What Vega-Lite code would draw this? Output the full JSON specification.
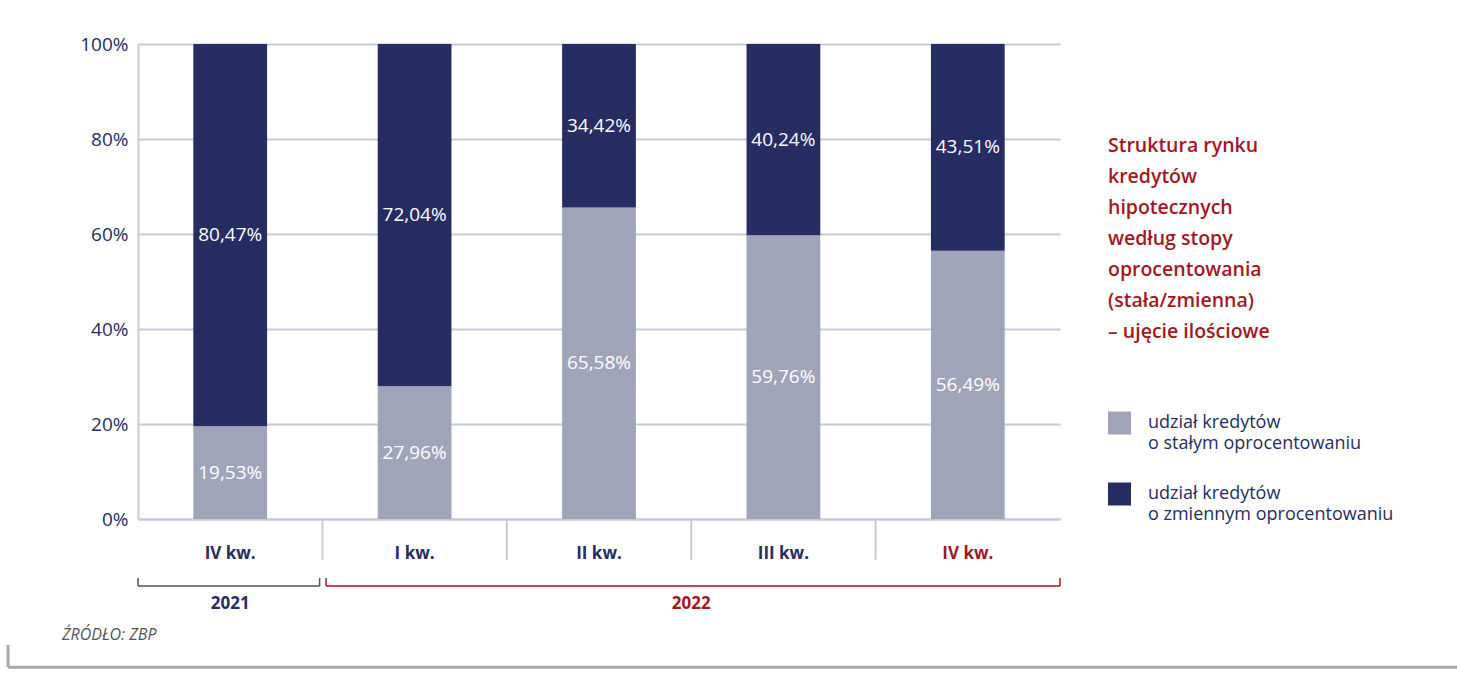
{
  "$schema": "https://vega.github.io/schema/vega-lite/v6.json",
  "autosize": {"type": "none"},
  "width": 922,
  "height": 475,
  "padding": {"left": 138, "top": 44, "right": 397, "bottom": 179},
  "background": "white",
  "config": {"view": {"stroke": null}, "font": "Open Sans"},
  "datasets": {
    "bars": [
      {"q": "IV kw.|2021", "typ": "stały", "ord": 1, "value": 19.53},
      {"q": "IV kw.|2021", "typ": "zmienny", "ord": 2, "value": 80.47},
      {"q": "I kw.|2022", "typ": "stały", "ord": 1, "value": 27.96},
      {"q": "I kw.|2022", "typ": "zmienny", "ord": 2, "value": 72.04},
      {"q": "II kw.|2022", "typ": "stały", "ord": 1, "value": 65.58},
      {"q": "II kw.|2022", "typ": "zmienny", "ord": 2, "value": 34.42},
      {"q": "III kw.|2022", "typ": "stały", "ord": 1, "value": 59.76},
      {"q": "III kw.|2022", "typ": "zmienny", "ord": 2, "value": 40.24},
      {"q": "IV kw.|2022", "typ": "stały", "ord": 1, "value": 56.49},
      {"q": "IV kw.|2022", "typ": "zmienny", "ord": 2, "value": 43.51}
    ],
    "years": [
      {"year": "2021", "start": 0.0, "end": 0.985, "mid": 0.5},
      {"year": "2022", "start": 1.02, "end": 5.0, "mid": 3.0}
    ],
    "seps": [{"b": 1}, {"b": 2}, {"b": 3}, {"b": 4}],
    "src": [{"t": "ŹRÓDŁO: ZBP"}]
  },
  "layer": [
    {
      "data": {"name": "bars"},
      "encoding": {
        "x": {
          "field": "q",
          "type": "nominal",
          "sort": null,
          "scale": {"paddingInner": 0.6, "paddingOuter": 0.3},
          "axis": {
            "title": null,
            "ticks": false,
            "labelAngle": 0,
            "labelExpr": "split(datum.label, '|')[0]",
            "labelFontSize": 17,
            "labelFontWeight": "bold",
            "labelColor": {"condition": {"test": "datum.value == 'IV kw.|2022'", "value": "#a3171f"}, "value": "#252d63"},
            "labelPadding": 26,
            "domainColor": "#c5cad9",
            "domainWidth": 2,
            "grid": false
          }
        }
      },
      "layer": [
        {
          "mark": {"type": "bar"},
          "encoding": {
            "y": {
              "field": "value",
              "type": "quantitative",
              "stack": "zero",
              "scale": {"domain": [0, 100], "nice": false},
              "axis": {
                "title": null,
                "values": [0, 20, 40, 60, 80, 100],
                "labelExpr": "datum.value + '%'",
                "labelFontSize": 19,
                "labelColor": "#252d63",
                "labelPadding": 10,
                "ticks": false,
                "domainColor": "#c5cad9",
                "domainWidth": 2,
                "gridColor": "#c5cad9",
                "gridWidth": 2
              }
            },
            "order": {"field": "ord"},
            "color": {
              "field": "typ",
              "type": "nominal",
              "scale": {"domain": ["stały", "zmienny"], "range": ["#a0a4b8", "#252d63"]},
              "legend": {
                "orient": "none",
                "legendX": 970,
                "legendY": 93,
                "title": ["Struktura rynku", "kredytów", "hipotecznych", "według stopy", "oprocentowania", "(stała/zmienna)", "– ujęcie ilościowe"],
                "titleColor": "#a3171f",
                "titleFontSize": 19.5,
                "titleFontWeight": 600,
                "titleLineHeight": 31,
                "titlePadding": 69,
                "symbolType": "square",
                "symbolSize": 529,
                "symbolStrokeWidth": 0,
                "symbolOpacity": 1,
                "labelExpr": "datum.value == 'stały' ? ['udział kredytów', 'o stałym oprocentowaniu'] : ['udział kredytów', 'o zmiennym oprocentowaniu']",
                "labelFontSize": 18,
                "labelColor": "#252d63",
                "labelBaseline": "alphabetic",
                "labelOffset": 17,
                "labelLimit": 400,
                "rowPadding": 29,
                "encode": {"labels": {"update": {"dy": {"value": 5}, "lineHeight": {"value": 21}}}}
              }
            }
          }
        },
        {
          "transform": [
            {"stack": "value", "groupby": ["q"], "sort": [{"field": "ord"}], "as": ["v0", "v1"]},
            {"calculate": "(datum.v0 + datum.v1) / 2", "as": "mid"},
            {"calculate": "replace(format(datum.value, '.2f'), '.', ',') + '%'", "as": "lbl"}
          ],
          "mark": {"type": "text", "color": "white", "fontSize": 19, "baseline": "middle", "align": "center"},
          "encoding": {
            "y": {"field": "mid", "type": "quantitative", "scale": {"domain": [0, 100], "nice": false}},
            "text": {"field": "lbl"}
          }
        }
      ]
    },
    {
      "layer": [
        {
          "data": {"name": "seps"},
          "mark": {"type": "rule", "color": "#c5cad9", "strokeWidth": 2},
          "encoding": {
            "x": {"field": "b", "type": "quantitative", "scale": {"domain": [0, 5], "nice": false, "zero": false}, "axis": null},
            "y": {"datum": 0},
            "y2": {"datum": -8.6}
          }
        },
        {
          "data": {"name": "years"},
          "mark": {"type": "rule", "strokeWidth": 1.5},
          "encoding": {
            "x": {"field": "start", "type": "quantitative", "scale": {"domain": [0, 5], "nice": false, "zero": false}, "axis": null},
            "x2": {"field": "end"},
            "y": {"datum": -14.1},
            "color": {"field": "year", "type": "nominal", "scale": {"domain": ["2021", "2022"], "range": ["#555555", "#a3171f"]}, "legend": null}
          }
        },
        {
          "data": {"name": "years"},
          "mark": {"type": "rule", "strokeWidth": 1.5},
          "encoding": {
            "x": {"field": "start", "type": "quantitative", "scale": {"domain": [0, 5], "nice": false, "zero": false}, "axis": null},
            "y": {"datum": -12.4},
            "y2": {"datum": -14.1},
            "color": {"field": "year", "type": "nominal", "scale": {"domain": ["2021", "2022"], "range": ["#555555", "#a3171f"]}, "legend": null}
          }
        },
        {
          "data": {"name": "years"},
          "mark": {"type": "rule", "strokeWidth": 1.5},
          "encoding": {
            "x": {"field": "end", "type": "quantitative", "scale": {"domain": [0, 5], "nice": false, "zero": false}, "axis": null},
            "y": {"datum": -12.4},
            "y2": {"datum": -14.1},
            "color": {"field": "year", "type": "nominal", "scale": {"domain": ["2021", "2022"], "range": ["#555555", "#a3171f"]}, "legend": null}
          }
        },
        {
          "data": {"name": "years"},
          "mark": {"type": "text", "fontSize": 17, "fontWeight": "bold", "baseline": "middle", "align": "center"},
          "encoding": {
            "x": {"field": "mid", "type": "quantitative", "scale": {"domain": [0, 5], "nice": false, "zero": false}, "axis": null},
            "y": {"datum": -17.8},
            "text": {"field": "year"},
            "color": {"field": "year", "type": "nominal", "scale": {"domain": ["2021", "2022"], "range": ["#252d63", "#a3171f"]}, "legend": null}
          }
        },
        {
          "data": {"name": "src"},
          "mark": {"type": "text", "fontSize": 16, "fontStyle": "italic", "color": "#555555", "baseline": "middle", "align": "left"},
          "encoding": {
            "x": {"datum": -0.412, "type": "quantitative", "scale": {"domain": [0, 5], "nice": false, "zero": false}, "axis": null},
            "y": {"datum": -24.4},
            "text": {"field": "t"}
          }
        },
        {
          "data": {"name": "src"},
          "mark": {"type": "rule", "color": "#a8a8ab", "strokeWidth": 3},
          "encoding": {
            "x": {"datum": -0.705, "type": "quantitative", "scale": {"domain": [0, 5], "nice": false, "zero": false}, "axis": null},
            "x2": {"datum": 7.16},
            "y": {"datum": -31.2}
          }
        },
        {
          "data": {"name": "src"},
          "mark": {"type": "rule", "color": "#a8a8ab", "strokeWidth": 3},
          "encoding": {
            "x": {"datum": -0.705, "type": "quantitative", "scale": {"domain": [0, 5], "nice": false, "zero": false}, "axis": null},
            "y": {"datum": -26.5},
            "y2": {"datum": -31.2}
          }
        }
      ],
      "resolve": {"scale": {"color": "independent"}}
    }
  ],
  "resolve": {"scale": {"x": "independent", "color": "independent"}}
}
